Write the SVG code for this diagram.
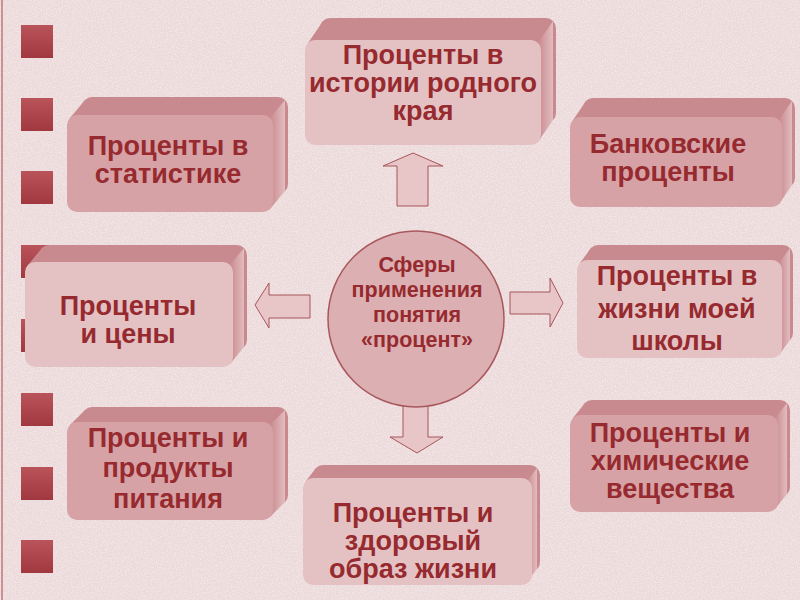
<svg xmlns="http://www.w3.org/2000/svg" width="800" height="600" viewBox="0 0 800 600">
<defs>
<filter id="noise" x="0" y="0" width="100%" height="100%">
<feTurbulence type="fractalNoise" baseFrequency="0.8" numOctaves="2" seed="3" result="t"/>
<feColorMatrix type="matrix" values="0 0 0 0 1  0 0 0 0 1  0 0 0 0 1  0 0 0 -2.2 1.35"/>
</filter>
<linearGradient id="sq" x1="0" y1="0" x2="0" y2="1">
<stop offset="0" stop-color="#b9545a"/>
<stop offset="1" stop-color="#a1383f"/>
</linearGradient>
<linearGradient id="side" x1="0" y1="0" x2="1" y2="0">
<stop offset="0" stop-color="#c98a8f"/>
<stop offset="1" stop-color="#e2bcbf"/>
</linearGradient>
<style>
.sq{fill:url(#sq)}
.top{fill:#c98a8f}
.rs{fill:url(#side)}
.fl{fill:#e4c2c4}
.fd{fill:#d6a2a6}
.t{font-family:"Liberation Sans",Arial,sans-serif;font-weight:bold;font-size:27px;fill:#962a2f;text-anchor:middle}
.tc{font-size:21.5px}
.arr{fill:#e8c6c8;stroke:#a8555a;stroke-width:1}
</style>
</defs>
<rect width="800" height="600" fill="#ecd9da"/>
<rect width="800" height="600" filter="url(#noise)" opacity="0.45"/>
<line x1="2" y1="0" x2="2" y2="600" stroke="#c0777b" stroke-width="1.5"/>
<g id="squares">
<rect class="sq" x="21" y="25" width="32" height="33"/>
<rect class="sq" x="21" y="98" width="32" height="33"/>
<rect class="sq" x="21" y="171" width="32" height="33"/>
<rect class="sq" x="21" y="245" width="32" height="33"/>
<rect class="sq" x="21" y="319" width="32" height="33"/>
<rect class="sq" x="21" y="393" width="32" height="33"/>
<rect class="sq" x="21" y="467" width="32" height="33"/>
<rect class="sq" x="21" y="540" width="32" height="33"/>
</g>
<g id="connectors">
<polygon class="arr" points="413,153 443,166 428,166 428,206 397,206 397,166 383,166"/>
<polygon class="arr" points="510,292 550,292 550,278 563,303 550,327 550,314 510,314"/>
<polygon class="arr" points="255,305 269,283 269,295 310,295 310,318 269,318 269,328"/>
<polygon class="arr" points="403,400 428,400 428,437 443,437 417,453 390,437 403,437"/>
</g>
<g id="center">
<circle cx="416" cy="319" r="88" fill="#dcafb2" stroke="#a8585c" stroke-width="1.5"/>
<text class="t tc" x="417" y="272">Сферы</text>
<text class="t tc" x="417" y="297">применения</text>
<text class="t tc" x="417" y="322">понятия</text>
<text class="t tc" x="417" y="347">«процент»</text>
</g>
<g id="box-history">
<rect class="top" x="320" y="18" width="236" height="105" rx="10"/>
<polygon class="top" points="308,43 323,21 553,21 538,43"/>
<polygon class="rs" points="538,43 553,21 553,120 538,142"/>
<rect class="fl" x="305" y="40" width="236" height="105" rx="10"/>
<text class="t" x="423" y="64">Проценты в</text>
<text class="t" x="423" y="92">истории родного</text>
<text class="t" x="423" y="120">края</text>
</g>
<g id="box-stat">
<rect class="top" x="82" y="97" width="206" height="97" rx="10"/>
<polygon class="top" points="70,118 85,100 285,100 270,118"/>
<polygon class="rs" points="270,118 285,100 285,191 270,209"/>
<rect class="fd" x="67" y="115" width="206" height="97" rx="10"/>
<text class="t" x="168" y="155">Проценты в</text>
<text class="t" x="168" y="183">статистике</text>
</g>
<g id="box-bank">
<rect class="top" x="583" y="98" width="212" height="90" rx="10"/>
<polygon class="top" points="573,120 586,101 792,101 779,120"/>
<polygon class="rs" points="779,120 792,101 792,185 779,204"/>
<rect class="fd" x="570" y="117" width="212" height="90" rx="10"/>
<text class="t" x="668" y="153">Банковские</text>
<text class="t" x="668" y="181">проценты</text>
</g>
<g id="box-prices">
<rect class="top" x="39" y="245" width="208" height="105" rx="10"/>
<polygon class="top" points="28,265 42,248 244,248 230,265"/>
<polygon class="rs" points="230,265 244,248 244,347 230,364"/>
<rect class="fl" x="25" y="262" width="208" height="105" rx="10"/>
<text class="t" x="128" y="315">Проценты</text>
<text class="t" x="128" y="343">и цены</text>
</g>
<g id="box-school">
<rect class="top" x="588" y="245" width="205" height="98" rx="10"/>
<polygon class="top" points="580,263 591,248 790,248 779,263"/>
<polygon class="rs" points="779,263 790,248 790,340 779,355"/>
<rect class="fl" x="577" y="260" width="205" height="98" rx="10"/>
<text class="t" x="677" y="285">Проценты в</text>
<text class="t" x="677" y="318">жизни моей</text>
<text class="t" x="677" y="350">школы</text>
</g>
<g id="box-food">
<rect class="top" x="82" y="407" width="206" height="98" rx="10"/>
<polygon class="top" points="70,425 85,410 285,410 270,425"/>
<polygon class="rs" points="270,425 285,410 285,502 270,517"/>
<rect class="fd" x="67" y="422" width="206" height="98" rx="10"/>
<text class="t" x="168" y="447">Проценты и</text>
<text class="t" x="168" y="477">продукты</text>
<text class="t" x="168" y="508">питания</text>
</g>
<g id="box-health">
<rect class="top" x="313" y="465" width="227" height="107" rx="10"/>
<polygon class="top" points="306,481 316,468 537,468 527,481"/>
<polygon class="rs" points="527,481 537,468 537,569 527,582"/>
<rect class="fl" x="303" y="478" width="229" height="107" rx="10"/>
<text class="t" x="413" y="522">Проценты и</text>
<text class="t" x="413" y="550">здоровый</text>
<text class="t" x="413" y="578">образ жизни</text>
</g>
<g id="box-chem">
<rect class="top" x="582" y="400" width="208" height="97" rx="10"/>
<polygon class="top" points="573,418 585,403 787,403 775,418"/>
<polygon class="rs" points="775,418 787,403 787,494 775,509"/>
<rect class="fd" x="570" y="415" width="208" height="97" rx="10"/>
<text class="t" x="670" y="442">Проценты и</text>
<text class="t" x="670" y="470">химические</text>
<text class="t" x="670" y="498">вещества</text>
</g>
</svg>
